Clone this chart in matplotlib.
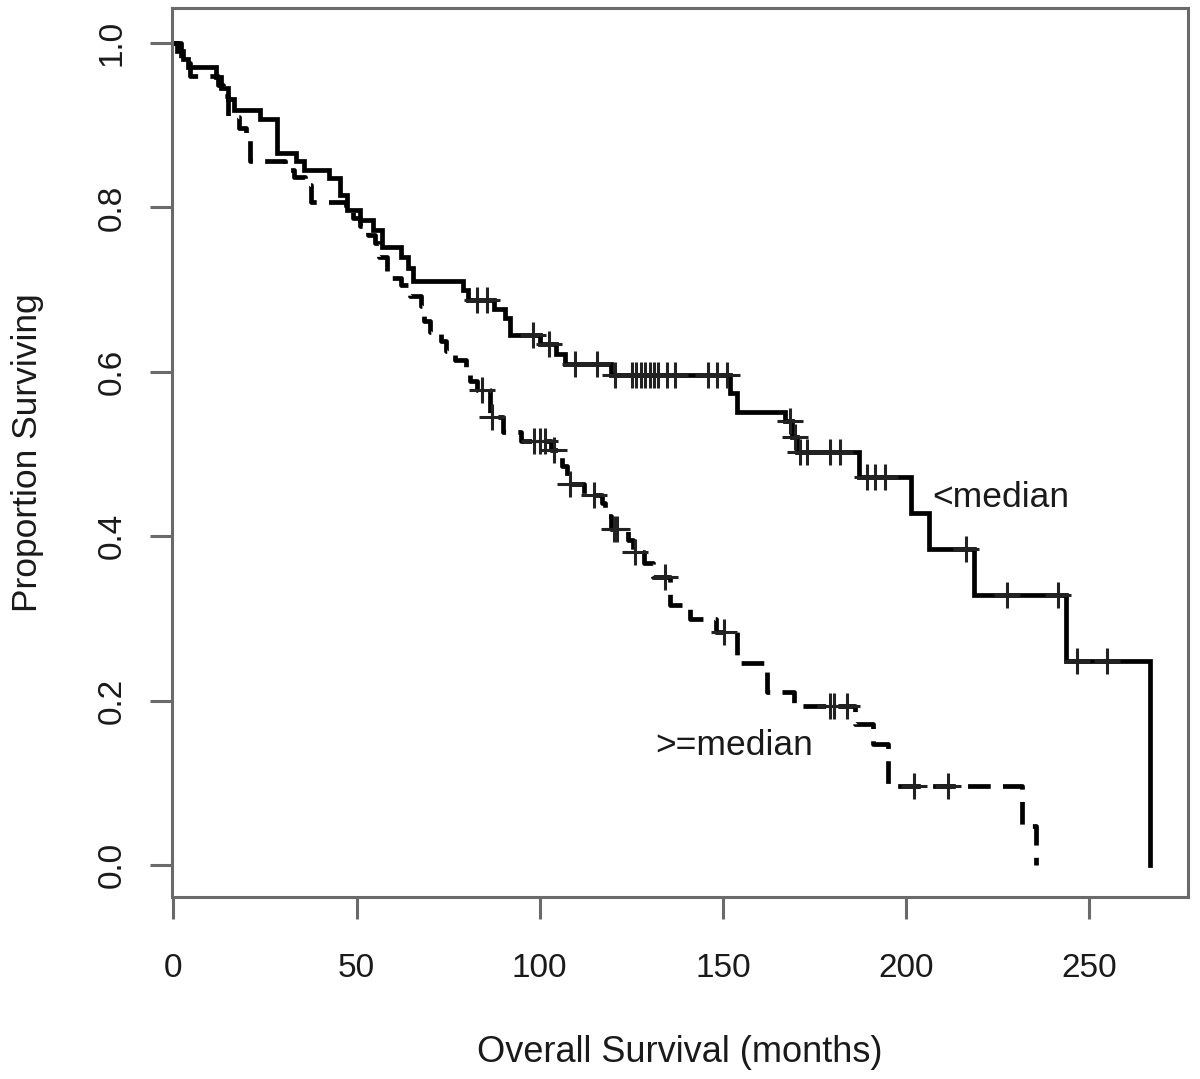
import numpy as np
import matplotlib.pyplot as plt

plt.rcParams['font.family'] = ['Liberation Sans', 'DejaVu Sans']

# <median group: event times and survival after each event
low_t = [0, 1, 2.5, 4, 11.5, 13, 14.8, 16.5, 23.7, 28.3, 33.6, 35.6, 42.4, 45.6,
         47.4, 51, 54.6, 57, 62, 64, 65.5, 79, 80.5, 87.5, 90.5, 92, 100, 104.5,
         107, 119.5, 152, 154, 167, 168.8, 170.2, 187.2, 201.3, 206.4, 218.6,
         243.8, 266.6]
low_s = [1.0, 0.99, 0.981, 0.971, 0.958, 0.945, 0.932, 0.919, 0.908, 0.866,
         0.856, 0.846, 0.836, 0.815, 0.797, 0.785, 0.773, 0.752, 0.740, 0.726,
         0.710, 0.699, 0.687, 0.676, 0.665, 0.645, 0.634, 0.622, 0.610, 0.596,
         0.574, 0.551, 0.540, 0.521, 0.503, 0.472, 0.428, 0.385, 0.329, 0.248, 0.0]
low_cens = [83.0, 85.6, 98.3, 102.5, 109.7, 115.6, 120.5, 125.2, 126.4, 127.6,
            128.8, 130.0, 131.2, 132.4, 134.7, 137.0, 146.0, 148.4, 151.1, 168.3,
            169.6, 171.1, 172.9, 179.3, 182.0, 189.3, 191.6, 194.3, 216.4, 227.5,
            241.6, 246.6, 254.8]

# >=median group
high_t = [0, 2, 4.5, 12.3, 13.5, 15, 18, 19.8, 21, 30.5, 33, 36, 37.5, 47, 49, 51,
          53, 55, 56, 58.3, 62, 64.5, 67.5, 68.5, 70, 73, 74.5, 77, 80, 81, 83,
          86.5, 90, 95, 103, 106, 107.5, 112, 117, 117.8, 119.5, 124, 125.5,
          128.5, 131, 135.5, 141, 148, 153.8, 162, 169.3, 186, 191, 195, 231.6,
          235.5]
high_s = [1.0, 0.975, 0.96, 0.949, 0.935, 0.91, 0.897, 0.888, 0.857, 0.846, 0.837,
          0.827, 0.807, 0.797, 0.787, 0.777, 0.767, 0.757, 0.74, 0.714, 0.706,
          0.692, 0.68, 0.662, 0.648, 0.637, 0.625, 0.614, 0.60, 0.589, 0.578,
          0.545, 0.527, 0.516, 0.505, 0.485, 0.464, 0.45, 0.44, 0.425, 0.409,
          0.395, 0.381, 0.367, 0.35, 0.317, 0.30, 0.2835, 0.246, 0.211, 0.194,
          0.172, 0.148, 0.097, 0.048, 0.0]
high_cens = [84.3, 87.0, 98.5, 100.0, 101.5, 104.0, 108.4, 114.7, 120.2, 121.0,
             126.1, 134.3, 150.2, 179.3, 180.3, 183.9, 202.2, 211.6]

x_ticks = [0, 50, 100, 150, 200, 250]
y_ticks = [0.0, 0.2, 0.4, 0.6, 0.8, 1.0]


def surv_at(t, s, times):
    idx = np.searchsorted(t, times, side='right') - 1
    return np.array(s)[idx]


fig = plt.figure(figsize=(12, 10.79), dpi=100)
ax = fig.add_axes([0.1433, 0.1687, 0.8467, 0.8239])

lw = 3.4
txt = '#1a1a1a'
ax.step(low_t, low_s, where='post', color='black', lw=lw, solid_joinstyle='miter')
ax.step(high_t, high_s, where='post', color='black', lw=lw,
        linestyle=(0, (4.8, 2.6)), dash_capstyle='butt')

ax.plot(low_cens, surv_at(low_t, low_s, low_cens), linestyle='none',
        marker='+', markersize=19, mew=2.2, color='#222222')
ax.plot(high_cens, surv_at(high_t, high_s, high_cens), linestyle='none',
        marker='+', markersize=19, mew=2.2, color='#222222')

ax.text(207.2, 0.4475, '<median', fontsize=25.5, va='center', ha='left', color=txt)
ax.text(131.5, 0.1455, '>=median', fontsize=25.5, va='center', ha='left', color=txt)

ax.set_xlim(-0.4, 277)
ax.set_ylim(-0.0385, 1.0425)
ax.set_xticks(x_ticks)
ax.set_xticklabels([str(v) for v in x_ticks])
ax.set_yticks(y_ticks)
ax.set_yticklabels(['%.1f' % v for v in y_ticks], rotation=90, va='center')

for sp in ax.spines.values():
    sp.set_color('#6a6a6a')
    sp.set_linewidth(2.2)
ax.tick_params(direction='out', length=16, width=2.2, color='#6a6a6a',
               labelsize=24, labelcolor=txt)
ax.tick_params(axis='x', pad=24)
ax.tick_params(axis='y', pad=16)

ax.set_xlabel('Overall Survival (months)', fontsize=26, color=txt, labelpad=37)
ax.set_ylabel('Proportion Surviving', fontsize=25.5, color=txt, labelpad=38)

fig.savefig('out.png', dpi=100)
